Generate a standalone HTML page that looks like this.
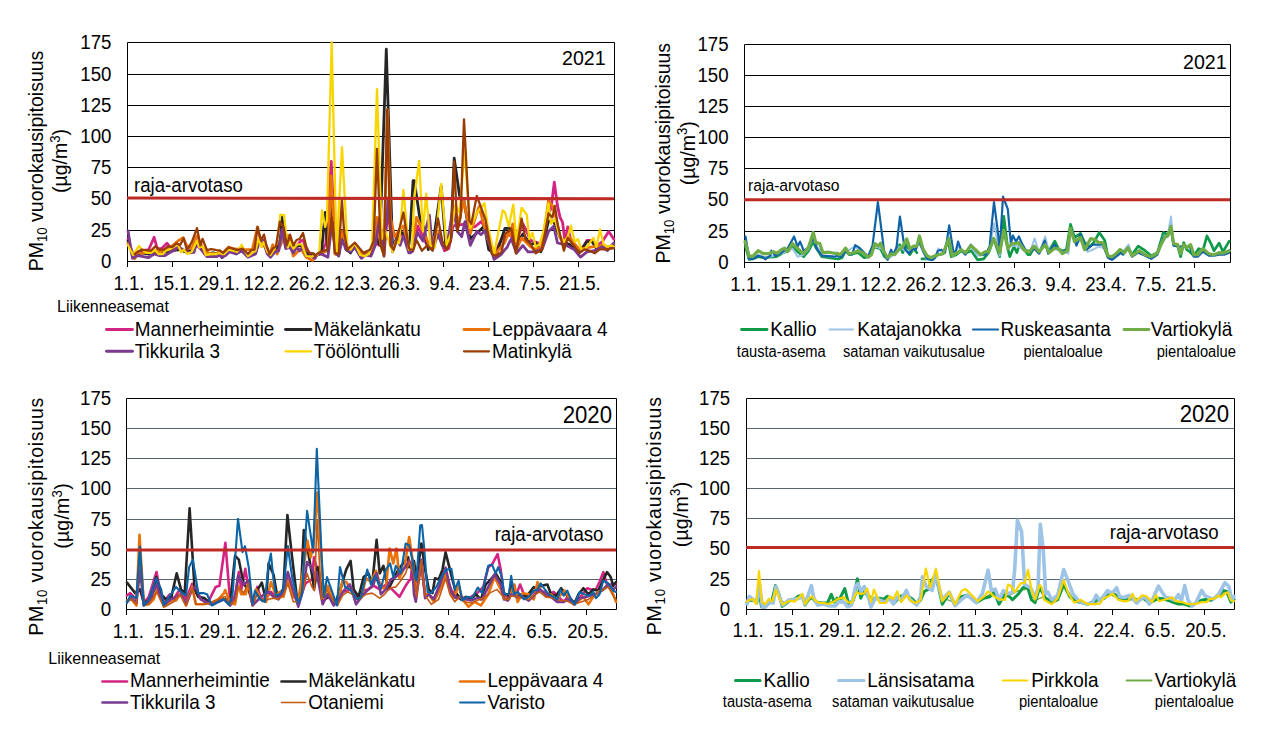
<!DOCTYPE html><html><head><meta charset="utf-8"><title>PM10</title><style>html,body{margin:0;padding:0;background:#fff;overflow:hidden}svg{display:block}text{font-family:"Liberation Sans",Arial,sans-serif}</style></head><body>
<svg width="1265" height="742" viewBox="0 0 1265 742">
<rect width="1265" height="742" fill="#fff"/>
<line x1="127" y1="74.5" x2="615" y2="74.5" stroke="#000" stroke-width="1"/>
<line x1="127" y1="105.5" x2="615" y2="105.5" stroke="#000" stroke-width="1"/>
<line x1="127" y1="136.5" x2="615" y2="136.5" stroke="#000" stroke-width="1"/>
<line x1="127" y1="167.5" x2="615" y2="167.5" stroke="#000" stroke-width="1"/>
<line x1="127" y1="230.5" x2="615" y2="230.5" stroke="#000" stroke-width="1"/>
<path d="M127.5 267V42.5H614.5V261.5H127" fill="none" stroke="#000" stroke-width="1"/>
<line x1="127.5" y1="261" x2="127.5" y2="267" stroke="#000" stroke-width="1"/>
<text transform="translate(129.0,290) scale(1,1.06)" font-size="18.67" text-anchor="middle">1.1.</text>
<line x1="172.5" y1="261" x2="172.5" y2="267" stroke="#000" stroke-width="1"/>
<text transform="translate(174.1,290) scale(1,1.06)" font-size="18.67" text-anchor="middle">15.1.</text>
<line x1="217.5" y1="261" x2="217.5" y2="267" stroke="#000" stroke-width="1"/>
<text transform="translate(219.2,290) scale(1,1.06)" font-size="18.67" text-anchor="middle">29.1.</text>
<line x1="262.5" y1="261" x2="262.5" y2="267" stroke="#000" stroke-width="1"/>
<text transform="translate(264.3,290) scale(1,1.06)" font-size="18.67" text-anchor="middle">12.2.</text>
<line x1="307.5" y1="261" x2="307.5" y2="267" stroke="#000" stroke-width="1"/>
<text transform="translate(309.4,290) scale(1,1.06)" font-size="18.67" text-anchor="middle">26.2.</text>
<line x1="352.5" y1="261" x2="352.5" y2="267" stroke="#000" stroke-width="1"/>
<text transform="translate(354.5,290) scale(1,1.06)" font-size="18.67" text-anchor="middle">12.3.</text>
<line x1="398.5" y1="261" x2="398.5" y2="267" stroke="#000" stroke-width="1"/>
<text transform="translate(399.6,290) scale(1,1.06)" font-size="18.67" text-anchor="middle">26.3.</text>
<line x1="443.5" y1="261" x2="443.5" y2="267" stroke="#000" stroke-width="1"/>
<text transform="translate(444.7,290) scale(1,1.06)" font-size="18.67" text-anchor="middle">9.4.</text>
<line x1="488.5" y1="261" x2="488.5" y2="267" stroke="#000" stroke-width="1"/>
<text transform="translate(489.8,290) scale(1,1.06)" font-size="18.67" text-anchor="middle">23.4.</text>
<line x1="533.5" y1="261" x2="533.5" y2="267" stroke="#000" stroke-width="1"/>
<text transform="translate(534.9,290) scale(1,1.06)" font-size="18.67" text-anchor="middle">7.5.</text>
<line x1="578.5" y1="261" x2="578.5" y2="267" stroke="#000" stroke-width="1"/>
<text transform="translate(580.0,290) scale(1,1.06)" font-size="18.67" text-anchor="middle">21.5.</text>
<text transform="translate(111.5,48.8) scale(1,1.06)" font-size="18.67" text-anchor="end">175</text>
<text transform="translate(111.5,80.8) scale(1,1.06)" font-size="18.67" text-anchor="end">150</text>
<text transform="translate(111.5,111.8) scale(1,1.06)" font-size="18.67" text-anchor="end">125</text>
<text transform="translate(111.5,142.8) scale(1,1.06)" font-size="18.67" text-anchor="end">100</text>
<text transform="translate(111.5,173.8) scale(1,1.06)" font-size="18.67" text-anchor="end">75</text>
<text transform="translate(111.5,204.8) scale(1,1.06)" font-size="18.67" text-anchor="end">50</text>
<text transform="translate(111.5,236.8) scale(1,1.06)" font-size="18.67" text-anchor="end">25</text>
<text transform="translate(111.5,267.8) scale(1,1.06)" font-size="18.67" text-anchor="end">0</text>
<g fill="none" stroke-linejoin="round" stroke-linecap="round">
<polyline points="128.0,238.9 132.5,255.0 137.9,251.8 143.3,250.7 148.7,249.7 154.1,237.3 157.3,248.6 161.6,248.6 167.0,243.2 170.3,247.5 175.6,248.6 181.0,249.7 185.3,251.8 191.8,250.7 196.7,245.3 200.4,248.6 204.7,254.0 211.2,254.0 216.6,254.5 220.0,254.0 222.0,255.0 228.6,249.7 236.2,251.8 241.6,250.7 248.0,255.0 255.6,252.9 258.8,243.2 263.1,241.0 267.4,252.9 271.7,254.0 276.0,250.7 280.3,245.3 283.6,236.7 289.0,241.0 293.3,249.7 300.8,241.0 303.0,240.0 307.3,251.8 312.7,254.0 315.0,257.2 317.0,255.0 321.5,252.9 325.8,243.2 331.2,161.3 335.5,252.9 338.7,255.0 341.9,231.3 346.2,249.7 350.6,251.8 354.9,245.3 361.3,256.1 365.6,254.0 371.0,254.0 375.3,243.2 379.7,245.3 384.0,245.3 388.3,211.9 392.6,249.7 396.9,238.9 403.4,232.4 408.8,250.7 410.0,251.8 412.0,250.7 417.5,225.9 422.9,236.7 427.2,245.3 432.6,248.6 438.0,231.3 444.5,250.7 448.8,248.6 453.1,225.9 459.6,224.9 466.0,223.8 474.7,227.0 481.1,221.6 485.4,228.1 494.1,254.0 502.7,236.7 505.0,237.9 510.1,233.6 515.2,244.3 522.9,223.8 525.5,228.9 530.6,240.4 542.1,244.3 547.3,216.1 551.1,208.4 554.3,182.2 557.5,205.9 560.1,217.4 562.6,222.5 565.2,243.0 567.7,227.0 571.6,243.0 576.7,249.4 581.8,250.7 586.9,240.4 592.1,240.4 597.2,245.5 602.3,241.7 608.7,231.5 613.8,239.1" stroke="#D42483" stroke-width="2.8"/>
<polyline points="128.0,241.0 133.6,256.1 141.2,252.9 148.7,254.0 154.1,251.8 159.5,254.0 165.9,251.8 172.4,250.7 180.0,249.7 185.3,251.8 191.8,250.7 196.7,242.1 200.4,247.5 205.8,254.0 213.4,252.9 220.0,255.0 222.0,257.7 228.6,250.7 237.2,251.8 242.6,249.7 248.0,256.1 255.6,252.9 258.8,241.0 265.3,243.2 269.6,255.0 276.0,250.7 280.3,238.9 282.0,217.3 284.7,232.4 289.0,245.3 295.4,246.4 301.9,245.3 306.2,254.0 313.8,254.0 315.0,256.1 317.0,255.0 321.5,251.8 325.2,212.5 327.9,251.8 331.2,201.2 335.5,254.0 338.7,255.0 341.9,230.3 346.2,249.7 350.6,252.9 354.9,245.3 361.3,256.1 365.6,255.0 371.0,254.0 375.3,234.6 379.7,245.3 386.3,49.2 392.6,249.7 396.9,236.7 401.2,232.4 404.4,234.6 408.8,245.3 410.0,234.6 413.1,180.7 414.3,180.7 419.7,217.3 424.0,228.1 428.3,249.7 433.7,238.9 441.2,186.1 445.6,243.2 450.9,238.9 454.2,158.1 459.6,195.8 463.9,200.1 470.3,238.9 480.0,230.3 484.4,225.9 488.7,249.7 496.2,255.0 504.9,228.5 510.0,228.1 511.4,230.2 516.5,244.3 522.9,234.0 530.6,244.3 535.7,243.0 540.9,251.9 548.5,221.2 553.7,221.2 557.5,231.5 562.6,241.7 569.0,244.3 572.9,248.1 579.3,251.9 586.9,241.7 592.1,241.7 597.2,249.4 602.3,245.5 607.4,246.8 613.8,246.8" stroke="#262626" stroke-width="2.8"/>
<polyline points="128.0,243.2 134.7,258.8 137.9,252.9 142.2,253.4 150.9,251.3 156.2,250.7 160.6,251.8 165.9,249.7 170.3,247.5 177.8,241.0 183.2,237.8 186.4,245.3 191.8,248.6 197.0,235.6 200.4,243.2 204.7,250.7 211.2,254.0 216.6,254.0 220.0,251.3 222.0,254.0 228.6,247.0 232.9,248.6 241.6,249.7 252.3,249.7 257.5,227.0 261.5,246.4 265.3,245.3 269.6,254.0 272.8,244.8 277.1,254.0 280.3,245.3 284.7,235.6 289.0,235.6 293.3,256.1 300.8,248.6 306.2,257.2 312.7,260.4 315.0,257.2 317.0,255.0 321.5,254.0 327.9,249.7 331.2,175.8 334.9,254.0 338.7,254.0 341.9,231.3 345.2,241.0 347.3,249.7 354.9,244.3 363.5,256.1 370.0,251.8 373.7,243.2 377.0,217.3 380.7,245.3 384.0,254.0 387.4,109.6 390.4,217.3 394.7,236.7 399.1,230.3 403.4,225.9 408.8,247.5 410.0,249.7 412.0,250.7 416.5,217.3 422.9,230.3 430.5,248.6 436.9,230.3 442.3,245.3 447.7,247.5 454.2,206.6 458.5,222.7 463.9,201.2 470.3,233.5 479.0,206.6 487.6,238.9 494.1,255.0 502.7,245.3 505.0,241.7 507.0,236.7 508.8,232.7 510.0,235.6 512.7,223.8 516.5,249.4 521.6,237.9 525.5,241.7 530.6,246.8 535.7,249.4 542.1,246.8 548.5,200.7 552.4,205.9 556.2,218.7 560.1,237.9 563.9,241.7 569.0,236.6 574.1,243.0 579.3,249.4 584.4,248.1 592.1,246.8 602.3,245.5 607.4,248.1 613.8,244.3" stroke="#E97209" stroke-width="2.8"/>
<polyline points="128.0,230.8 132.5,258.3 137.9,255.6 143.3,256.7 148.2,257.7 154.1,254.0 159.5,255.6 164.9,255.6 170.3,252.3 175.6,249.7 178.3,246.4 181.0,248.6 185.3,250.7 189.7,252.9 194.0,252.3 196.7,243.2 200.4,246.4 204.7,254.0 206.9,256.7 211.2,256.7 216.6,256.7 220.0,255.0 222.0,257.2 225.4,255.6 229.7,251.8 236.2,254.0 241.6,250.7 248.0,257.2 255.6,254.0 258.8,241.0 263.1,240.0 267.4,254.0 270.6,257.2 275.0,251.8 278.7,250.7 282.0,229.2 285.7,248.6 290.0,247.5 293.3,252.9 296.5,247.5 299.7,250.7 303.0,247.5 306.2,256.1 311.6,256.1 315.0,258.3 317.0,255.0 321.5,254.0 327.9,257.2 332.2,221.6 335.5,251.8 338.7,256.1 341.9,240.0 346.2,249.7 350.6,251.8 354.9,247.5 361.3,258.3 365.6,255.0 371.0,256.1 375.3,245.3 379.7,217.3 384.0,256.1 388.3,197.9 392.6,251.8 396.9,238.9 400.1,245.3 403.4,235.6 408.8,252.9 410.0,252.9 412.0,251.8 417.5,232.4 422.9,241.0 429.4,215.2 432.6,249.7 438.0,234.6 442.3,245.3 446.6,248.6 453.1,206.6 457.4,231.3 461.7,236.7 465.0,221.6 470.3,245.3 476.8,231.3 481.1,234.6 485.4,230.3 494.1,259.4 501.6,254.0 505.0,249.4 507.0,247.5 510.0,241.0 511.4,239.1 516.5,253.2 522.9,245.5 528.0,251.9 534.4,251.9 542.1,249.4 548.5,231.5 553.7,226.3 557.5,243.0 563.9,244.3 569.0,246.8 574.1,249.4 580.5,257.1 586.9,251.9 594.6,250.7 602.3,246.8 607.4,250.7 613.8,243.0" stroke="#7B3A8E" stroke-width="2.8"/>
<polyline points="128.0,245.3 133.1,255.0 139.0,245.9 142.2,249.7 146.6,252.9 150.9,252.9 155.2,250.2 158.4,254.0 162.7,254.0 165.9,250.7 170.3,249.1 174.6,246.4 177.8,244.3 181.0,252.3 183.7,249.7 187.5,254.0 191.8,251.8 196.7,241.0 199.4,247.5 202.6,246.4 205.8,255.0 211.2,254.0 216.6,254.0 220.0,252.9 222.0,254.0 224.3,254.0 228.6,249.7 232.9,250.7 237.2,251.8 241.6,244.8 244.8,250.7 248.0,256.1 252.3,252.9 255.6,250.7 258.3,238.9 261.5,247.0 263.6,242.1 267.4,251.8 270.6,255.0 273.9,249.7 277.1,243.2 280.3,214.6 284.1,215.2 285.7,230.3 287.9,247.5 290.0,242.1 293.3,248.6 297.6,244.3 301.9,244.3 306.2,256.1 311.6,256.7 315.0,255.0 317.0,255.0 319.3,251.8 322.0,210.3 325.2,227.0 326.9,220.6 331.7,42.2 336.6,252.9 342.0,147.1 347.3,245.3 350.6,249.7 354.9,243.2 360.3,255.0 364.6,256.1 368.9,254.0 372.1,244.3 377.0,89.1 381.8,238.9 385.0,230.3 392.6,251.8 395.8,241.0 399.1,243.2 403.4,189.8 408.8,249.7 410.0,248.6 412.0,249.7 414.3,197.9 419.1,160.8 422.9,231.3 426.2,193.6 430.5,245.3 434.8,247.5 441.2,183.9 446.6,245.3 450.9,233.5 455.3,204.4 459.6,213.0 464.4,150.5 470.3,228.1 476.8,213.0 484.4,203.3 487.6,224.9 494.1,254.0 502.7,210.3 505.0,212.3 508.8,226.3 510.0,220.6 513.3,204.6 516.5,241.7 521.6,207.8 526.8,214.8 529.3,239.1 532.5,232.7 535.7,246.8 539.6,244.3 543.4,231.5 548.5,203.3 551.1,223.8 554.9,218.7 558.8,234.0 563.9,241.7 567.7,236.6 570.9,225.7 574.8,241.7 578.0,239.1 581.8,250.7 586.9,246.8 593.3,237.9 596.5,246.8 600.0,229.5 603.6,244.3 607.4,246.8 611.3,245.5 613.8,246.8" stroke="#F9D500" stroke-width="2.3"/>
<polyline points="134.7,254.0 141.2,249.7 146.6,250.2 150.9,250.7 155.2,246.4 159.5,249.7 163.8,249.7 168.1,246.4 172.4,247.0 176.7,243.2 180.0,245.3 183.7,238.3 187.0,250.2 191.8,242.1 197.0,228.1 200.4,245.3 202.6,238.9 206.9,250.2 211.2,249.1 216.6,250.2 219.9,250.5 223.1,252.9 228.6,247.5 232.9,248.6 237.2,250.2 242.6,248.6 248.0,254.0 251.2,250.2 254.5,249.7 257.5,227.0 260.9,240.0 264.0,234.6 266.3,245.3 269.6,254.0 272.8,248.6 276.0,246.4 279.8,221.6 283.6,227.0 286.8,245.3 290.0,234.6 293.3,245.3 296.5,240.0 299.7,238.9 303.0,233.0 306.2,246.4 309.4,252.9 313.8,254.0 315.0,256.1 317.0,254.0 321.5,251.3 327.9,249.7 331.7,217.3 334.9,252.9 338.7,254.0 341.9,200.1 344.1,231.3 347.3,249.7 354.9,242.7 363.5,252.9 370.0,249.7 373.7,241.0 377.0,148.9 380.7,245.3 384.0,256.1 387.2,109.6 390.4,245.3 393.7,249.7 398.0,234.6 403.4,212.5 408.8,247.5 410.0,249.7 412.0,249.7 413.2,250.7 416.5,240.0 421.9,250.7 427.2,245.3 432.6,250.7 438.0,218.4 442.3,241.0 446.6,249.7 450.9,241.0 454.2,161.3 457.4,231.3 460.6,217.3 464.0,119.3 469.3,220.6 471.4,223.8 476.8,195.8 485.4,219.5 491.9,254.0 496.2,256.1 501.6,251.8 505.0,234.0 507.0,232.4 510.0,230.3 511.4,228.9 515.9,253.2 521.6,218.7 525.5,239.1 530.6,244.3 535.7,253.2 542.1,249.4 548.5,213.5 552.4,217.4 554.9,205.9 557.5,223.8 563.9,250.7 567.7,237.9 572.9,244.3 579.3,253.2 584.4,249.4 589.5,250.7 594.6,253.2 599.8,249.4 607.4,249.4 613.8,248.1" stroke="#983C02" stroke-width="2.3"/>
</g>
<line x1="127" y1="198.0" x2="614" y2="198.8" stroke="#BE2B24" stroke-width="3.1"/>
<text transform="translate(134,191.6) scale(1,1.06)" font-size="18.67">raja-arvotaso</text>
<text transform="translate(605.6,65) scale(1,1.06)" font-size="19.6" text-anchor="end">2021</text>
<text transform="translate(43.0,161.00) rotate(-90) scale(1,1.05)" font-size="19.5" letter-spacing="0" text-anchor="middle">PM<tspan font-size="13.3" dy="3.8">10</tspan><tspan dy="-3.8"> vuorokausipitoisuus</tspan></text>
<text transform="translate(67,161.00) rotate(-90) scale(1,1.05)" font-size="19.5" letter-spacing="0" text-anchor="middle">(µg/m<tspan font-size="13.3" dy="-7">3</tspan><tspan dy="7">)</tspan></text>
<line x1="744" y1="75.5" x2="1231" y2="75.5" stroke="#000" stroke-width="1"/>
<line x1="744" y1="106.5" x2="1231" y2="106.5" stroke="#000" stroke-width="1"/>
<line x1="744" y1="137.5" x2="1231" y2="137.5" stroke="#000" stroke-width="1"/>
<line x1="744" y1="168.5" x2="1231" y2="168.5" stroke="#000" stroke-width="1"/>
<line x1="744" y1="231.5" x2="1231" y2="231.5" stroke="#000" stroke-width="1"/>
<path d="M744.5 268V44.5H1230.5V262.5H744" fill="none" stroke="#000" stroke-width="1"/>
<line x1="744.5" y1="262" x2="744.5" y2="268" stroke="#000" stroke-width="1"/>
<text transform="translate(745.9,291) scale(1,1.06)" font-size="18.67" text-anchor="middle">1.1.</text>
<line x1="789.5" y1="262" x2="789.5" y2="268" stroke="#000" stroke-width="1"/>
<text transform="translate(790.9,291) scale(1,1.06)" font-size="18.67" text-anchor="middle">15.1.</text>
<line x1="834.5" y1="262" x2="834.5" y2="268" stroke="#000" stroke-width="1"/>
<text transform="translate(835.9,291) scale(1,1.06)" font-size="18.67" text-anchor="middle">29.1.</text>
<line x1="879.5" y1="262" x2="879.5" y2="268" stroke="#000" stroke-width="1"/>
<text transform="translate(880.9,291) scale(1,1.06)" font-size="18.67" text-anchor="middle">12.2.</text>
<line x1="924.5" y1="262" x2="924.5" y2="268" stroke="#000" stroke-width="1"/>
<text transform="translate(925.9,291) scale(1,1.06)" font-size="18.67" text-anchor="middle">26.2.</text>
<line x1="969.5" y1="262" x2="969.5" y2="268" stroke="#000" stroke-width="1"/>
<text transform="translate(970.9,291) scale(1,1.06)" font-size="18.67" text-anchor="middle">12.3.</text>
<line x1="1014.5" y1="262" x2="1014.5" y2="268" stroke="#000" stroke-width="1"/>
<text transform="translate(1015.9,291) scale(1,1.06)" font-size="18.67" text-anchor="middle">26.3.</text>
<line x1="1059.5" y1="262" x2="1059.5" y2="268" stroke="#000" stroke-width="1"/>
<text transform="translate(1060.9,291) scale(1,1.06)" font-size="18.67" text-anchor="middle">9.4.</text>
<line x1="1104.5" y1="262" x2="1104.5" y2="268" stroke="#000" stroke-width="1"/>
<text transform="translate(1105.9,291) scale(1,1.06)" font-size="18.67" text-anchor="middle">23.4.</text>
<line x1="1149.5" y1="262" x2="1149.5" y2="268" stroke="#000" stroke-width="1"/>
<text transform="translate(1150.9,291) scale(1,1.06)" font-size="18.67" text-anchor="middle">7.5.</text>
<line x1="1194.5" y1="262" x2="1194.5" y2="268" stroke="#000" stroke-width="1"/>
<text transform="translate(1195.9,291) scale(1,1.06)" font-size="18.67" text-anchor="middle">21.5.</text>
<text transform="translate(728.6,50.5) scale(1,1.06)" font-size="18.67" text-anchor="end">175</text>
<text transform="translate(728.6,81.5) scale(1,1.06)" font-size="18.67" text-anchor="end">150</text>
<text transform="translate(728.6,112.5) scale(1,1.06)" font-size="18.67" text-anchor="end">125</text>
<text transform="translate(728.6,143.5) scale(1,1.06)" font-size="18.67" text-anchor="end">100</text>
<text transform="translate(728.6,174.5) scale(1,1.06)" font-size="18.67" text-anchor="end">75</text>
<text transform="translate(728.6,205.5) scale(1,1.06)" font-size="18.67" text-anchor="end">50</text>
<text transform="translate(728.6,237.5) scale(1,1.06)" font-size="18.67" text-anchor="end">25</text>
<text transform="translate(728.6,268.5) scale(1,1.06)" font-size="18.67" text-anchor="end">0</text>
<g fill="none" stroke-linejoin="round" stroke-linecap="round">
<polyline points="745.5,246.6 749.1,259.3 753.1,258.8 758.2,256.7 763.2,257.7 769.3,257.2 776.4,256.7 783.4,252.7 788.5,250.7 792.5,246.6 797.6,251.7 803.7,256.7 808.7,250.7 813.3,241.6 815.8,247.6 821.9,256.7 828.9,257.7 834.0,258.3 838.0,258.8 839.1,258.8 842.0,257.7 845.6,250.7 849.1,254.7 853.2,253.7 858.2,252.7 864.3,257.7 868.3,256.7 872.4,246.6 876.4,247.6 880.5,248.6 884.5,256.7 887.5,258.8 891.6,253.7 895.6,252.7 899.7,244.6 902.7,252.7 906.8,244.6 909.8,254.7 913.8,248.6 916.9,252.7" stroke="#0E9A48" stroke-width="2.7"/>
<polyline points="921.9,258.8 927.0,258.8 931.0,259.8 933.0,257.7 935.1,256.7 938.1,254.7 943.1,253.7 948.2,240.6 951.2,256.7 956.3,254.7 961.3,250.7 966.4,252.7 971.4,250.7 977.5,259.8 983.6,258.8 988.6,252.7 993.7,238.5 999.7,256.7 1003.8,216.3 1007.8,248.6 1009.8,256.7 1013.9,246.6 1016.9,252.7 1020.0,242.6 1025.0,250.7 1028.0,254.7 1030.1,254.7 1034.1,247.6 1039.1,252.7 1045.2,243.6 1049.2,250.7 1054.8,241.1 1058.3,248.6 1062.4,250.7 1066.4,249.7 1070.5,224.4 1074.5,237.5 1080.6,233.5 1084.6,242.6 1089.7,246.6 1093.7,242.6 1099.3,232.5 1104.8,240.6 1107.9,256.7 1111.9,258.8 1116.0,254.7 1120.0,249.7 1123.0,252.7 1124.1,252.7 1128.1,247.6 1132.1,254.7 1138.2,246.1 1145.2,250.7 1151.3,255.7 1157.4,252.7 1163.4,232.5 1167.5,234.5 1171.0,228.4 1173.6,244.6 1177.6,245.6 1180.6,256.7 1183.7,242.6 1186.7,249.7 1189.7,251.7 1193.8,255.7 1198.8,248.6 1202.9,250.7 1206.9,236.0 1211.0,243.6 1214.0,250.7 1219.1,243.1 1223.1,251.7 1229.2,241.1" stroke="#0E9A48" stroke-width="2.7"/>
<polyline points="745.5,240.6 750.1,257.7 758.2,254.7 765.2,257.7 773.3,255.7 783.4,252.7 792.5,248.6 797.6,256.7 803.7,254.7 808.7,248.6 813.3,238.5 817.8,247.6 822.9,255.7 834.0,256.7 838.0,256.7 839.1,255.7 845.6,251.7 855.2,246.6 863.3,253.7 868.3,256.7 875.4,246.6 881.5,248.6 887.5,259.8 894.6,253.7 899.7,246.6 904.7,250.7 912.8,249.7 918.9,242.6 927.0,259.8 933.0,258.8 935.1,257.7 938.1,248.6 943.1,252.7 948.7,237.5 953.2,255.7 958.3,246.6 965.4,252.7 970.9,246.6 977.5,255.7 985.6,254.7 989.6,248.6 994.2,223.4 999.7,255.7 1003.8,230.4 1007.8,246.6 1012.9,245.6 1018.9,246.6 1024.0,250.7 1028.0,250.7 1030.1,251.7 1034.6,238.5 1039.1,252.7 1045.2,236.5 1049.2,252.7 1054.3,248.6 1062.4,250.7 1068.4,253.7 1071.0,230.4 1075.5,242.6 1081.6,240.6 1087.7,251.7 1092.7,249.7 1098.8,246.6 1104.8,248.6 1108.9,257.7 1113.9,258.8 1123.0,251.7 1128.6,244.6 1132.1,255.7 1139.2,250.7 1145.2,255.7 1151.3,257.7 1157.4,254.7 1163.4,236.5 1167.5,236.5 1171.0,216.5 1173.6,244.6 1179.6,246.6 1183.7,246.6 1189.7,246.6 1193.8,255.7 1202.9,250.7 1208.9,255.7 1219.1,253.7 1229.2,251.7" stroke="#9DC3E6" stroke-width="2.0"/>
<polyline points="745.5,236.5 749.1,258.8 753.1,258.8 758.2,255.7 763.2,257.2 765.2,259.3 770.3,255.7 771.3,250.7 775.4,255.7 781.4,252.7 787.5,248.6 794.1,236.5 797.6,246.6 800.1,241.6 803.7,250.7 808.7,247.6 813.3,237.5 816.8,248.6 821.9,255.7 828.9,256.2 834.0,256.7 838.0,255.7 839.1,256.7 842.0,256.7 845.6,250.7 849.1,253.7 852.2,254.7 855.2,245.1 859.2,247.6 863.3,251.7 868.3,256.7 872.4,246.6 877.9,202.1 881.5,230.4 884.5,254.7 887.5,259.8 891.1,249.7 893.6,254.7 896.6,246.6 899.9,216.5 902.7,235.5 904.7,248.6 908.8,253.7 912.8,248.6 915.9,249.7 918.9,240.6 922.9,250.7 927.0,258.8 931.0,259.8 933.0,259.8 935.1,257.7 938.1,250.7 941.1,249.7 945.1,252.7 949.2,225.4 953.2,250.7 955.2,253.7 958.1,241.6 961.3,250.7 965.4,254.7 970.9,244.6 975.5,250.7 980.5,254.7 985.6,254.7 989.6,246.6 994.0,202.1 997.7,230.4 999.7,250.7 1003.0,196.6 1007.8,209.2 1010.9,243.6 1012.9,235.5 1015.9,241.6 1018.9,236.5 1022.0,243.6 1026.0,250.7 1028.0,250.7 1030.1,251.7 1034.1,248.6 1039.1,253.7 1044.7,240.6 1048.2,253.7 1054.3,244.6 1058.3,249.7 1062.4,251.7 1067.4,249.7 1071.0,228.4 1076.5,245.6 1080.6,234.5 1086.6,249.7 1092.7,244.6 1098.8,244.6 1102.8,244.6 1107.9,257.7 1111.9,259.8 1117.0,255.7 1121.0,252.7 1123.0,254.7 1128.1,248.6 1132.1,256.7 1138.2,252.7 1145.2,255.7 1151.3,258.8 1157.4,254.7 1163.4,237.5 1167.5,236.5 1171.0,228.4 1173.6,245.6 1179.6,246.6 1183.7,246.6 1189.7,246.6 1193.8,256.7 1197.8,256.7 1202.9,251.7 1208.9,255.7 1214.0,255.7 1219.1,254.7 1224.1,254.7 1229.2,252.7" stroke="#1163A7" stroke-width="2.2"/>
<polyline points="745.0,241.6 749.1,256.2 753.1,256.2 758.2,250.7 763.2,253.7 768.3,253.7 773.3,251.7 777.4,253.2 781.4,249.7 784.5,248.1 787.5,251.7 792.5,243.6 797.6,248.6 803.7,253.7 808.7,246.6 813.3,232.5 815.8,242.6 819.8,243.6 822.9,252.7 828.9,252.2 834.0,253.2 838.0,253.7 839.1,254.7 842.0,252.7 845.6,248.1 849.1,253.7 853.2,252.7 858.2,250.7 863.3,253.2 868.3,257.2 871.4,254.7 874.9,243.6 878.4,246.1 880.5,243.1 883.5,250.7 887.5,257.7 891.6,253.7 894.6,254.7 898.7,249.7 902.7,246.6 906.8,239.0 909.8,248.6 913.8,246.1 916.9,246.1 919.4,236.0 922.9,248.6 927.0,255.7 931.0,257.7 933.0,256.7 935.1,255.7 938.1,254.7 943.1,253.7 948.7,238.5 952.2,255.7 957.3,252.7 961.3,249.7 965.4,252.7 970.9,245.6 975.5,249.7 980.5,254.7 985.6,251.7 988.6,251.7 993.7,238.5 999.7,252.7 1003.8,230.4 1007.8,248.6 1011.9,243.6 1015.9,243.6 1018.9,242.6 1024.0,249.7 1028.0,251.7 1029.1,251.7 1034.1,246.1 1039.1,251.7 1045.2,244.6 1049.2,252.7 1054.3,248.6 1058.3,248.6 1062.4,253.7 1067.4,250.7 1070.5,228.4 1074.5,241.6 1080.6,237.5 1084.6,249.7 1090.7,238.5 1094.7,239.5 1098.8,242.6 1102.8,242.6 1107.9,255.7 1111.9,256.7 1116.0,253.7 1120.0,249.7 1123.0,251.7 1124.1,252.7 1128.1,247.6 1132.1,255.7 1139.2,250.7 1145.2,254.7 1151.3,256.7 1157.4,253.2 1161.4,243.6 1165.5,236.5 1168.0,235.5 1171.0,226.4 1173.6,243.6 1177.6,244.6 1180.6,253.7 1183.7,244.6 1186.7,247.6 1190.7,244.6 1193.8,254.7 1197.8,254.7 1202.9,248.6 1208.9,253.7 1214.0,254.7 1219.1,252.7 1223.0,253.2 1229.2,250.7" stroke="#70AD47" stroke-width="3.2"/>
</g>
<line x1="744" y1="199.8" x2="1230" y2="199.8" stroke="#BE2B24" stroke-width="3.1"/>
<text transform="translate(748,190.5) scale(1,1.06)" font-size="15.7">raja-arvotaso</text>
<text transform="translate(1226.6,69) scale(1,1.06)" font-size="19.6" text-anchor="end">2021</text>
<text transform="translate(670.0,153.20) rotate(-90) scale(1,1.05)" font-size="19.5" letter-spacing="0" text-anchor="middle">PM<tspan font-size="13.3" dy="3.8">10</tspan><tspan dy="-3.8"> vuorokausipitoisuus</tspan></text>
<text transform="translate(694.7,153.20) rotate(-90) scale(1,1.05)" font-size="19.5" letter-spacing="0" text-anchor="middle">(µg/m<tspan font-size="13.3" dy="-7">3</tspan><tspan dy="7">)</tspan></text>
<line x1="126" y1="428.5" x2="617" y2="428.5" stroke="#59656D" stroke-width="1"/>
<line x1="126" y1="458.5" x2="617" y2="458.5" stroke="#59656D" stroke-width="1"/>
<line x1="126" y1="488.5" x2="617" y2="488.5" stroke="#59656D" stroke-width="1"/>
<line x1="126" y1="519.5" x2="617" y2="519.5" stroke="#59656D" stroke-width="1"/>
<line x1="126" y1="579.5" x2="617" y2="579.5" stroke="#59656D" stroke-width="1"/>
<path d="M126.5 615V398.5H616.5V609.5H126" fill="none" stroke="#000" stroke-width="1"/>
<line x1="126.5" y1="609" x2="126.5" y2="615" stroke="#000" stroke-width="1"/>
<text transform="translate(128.3,638) scale(1,1.06)" font-size="18.67" text-anchor="middle">1.1.</text>
<line x1="172.5" y1="609" x2="172.5" y2="615" stroke="#000" stroke-width="1"/>
<text transform="translate(174.3,638) scale(1,1.06)" font-size="18.67" text-anchor="middle">15.1.</text>
<line x1="218.5" y1="609" x2="218.5" y2="615" stroke="#000" stroke-width="1"/>
<text transform="translate(220.2,638) scale(1,1.06)" font-size="18.67" text-anchor="middle">29.1.</text>
<line x1="264.5" y1="609" x2="264.5" y2="615" stroke="#000" stroke-width="1"/>
<text transform="translate(266.2,638) scale(1,1.06)" font-size="18.67" text-anchor="middle">12.2.</text>
<line x1="310.5" y1="609" x2="310.5" y2="615" stroke="#000" stroke-width="1"/>
<text transform="translate(312.1,638) scale(1,1.06)" font-size="18.67" text-anchor="middle">26.2.</text>
<line x1="356.5" y1="609" x2="356.5" y2="615" stroke="#000" stroke-width="1"/>
<text transform="translate(358.1,638) scale(1,1.06)" font-size="18.67" text-anchor="middle">11.3.</text>
<line x1="402.5" y1="609" x2="402.5" y2="615" stroke="#000" stroke-width="1"/>
<text transform="translate(404.1,638) scale(1,1.06)" font-size="18.67" text-anchor="middle">25.3.</text>
<line x1="448.5" y1="609" x2="448.5" y2="615" stroke="#000" stroke-width="1"/>
<text transform="translate(450.0,638) scale(1,1.06)" font-size="18.67" text-anchor="middle">8.4.</text>
<line x1="494.5" y1="609" x2="494.5" y2="615" stroke="#000" stroke-width="1"/>
<text transform="translate(496.0,638) scale(1,1.06)" font-size="18.67" text-anchor="middle">22.4.</text>
<line x1="540.5" y1="609" x2="540.5" y2="615" stroke="#000" stroke-width="1"/>
<text transform="translate(541.9,638) scale(1,1.06)" font-size="18.67" text-anchor="middle">6.5.</text>
<line x1="586.5" y1="609" x2="586.5" y2="615" stroke="#000" stroke-width="1"/>
<text transform="translate(587.9,638) scale(1,1.06)" font-size="18.67" text-anchor="middle">20.5.</text>
<text transform="translate(111.2,404.5) scale(1,1.06)" font-size="18.67" text-anchor="end">175</text>
<text transform="translate(111.2,434.5) scale(1,1.06)" font-size="18.67" text-anchor="end">150</text>
<text transform="translate(111.2,464.5) scale(1,1.06)" font-size="18.67" text-anchor="end">125</text>
<text transform="translate(111.2,494.5) scale(1,1.06)" font-size="18.67" text-anchor="end">100</text>
<text transform="translate(111.2,525.5) scale(1,1.06)" font-size="18.67" text-anchor="end">75</text>
<text transform="translate(111.2,555.5) scale(1,1.06)" font-size="18.67" text-anchor="end">50</text>
<text transform="translate(111.2,585.5) scale(1,1.06)" font-size="18.67" text-anchor="end">25</text>
<text transform="translate(111.2,615.5) scale(1,1.06)" font-size="18.67" text-anchor="end">0</text>
<g fill="none" stroke-linejoin="round" stroke-linecap="round">
<polyline points="127.0,595.6 130.2,593.1 136.4,599.3 140.1,557.2 143.8,603.0 148.8,596.8 156.5,572.0 161.2,596.8 164.9,600.5 169.8,594.3 173.6,599.3 179.8,589.4 186.0,599.3 192.2,583.8 198.3,596.8 204.5,601.8 209.5,599.3 215.7,586.9 219.4,585.7 225.4,542.8 230.2,601.8 235.1,595.6 238.8,572.0 241.3,589.4 245.3,568.9 248.7,589.4 252.5,604.3 257.4,586.9 261.1,599.3 266.1,598.1 271.0,591.9 276.0,596.8 281.0,594.3 287.2,578.2 293.3,593.1 298.3,600.5 305.7,583.2 311.9,579.5 314.0,557.2 319.0,577.0 323.9,599.3 330.1,596.8 336.3,601.8 342.5,591.9 351.2,589.4 357.4,596.8 363.6,590.6 368.5,589.4 373.5,585.7 379.7,589.4 385.9,584.4 390.8,588.2 394.5,591.9 399.5,596.8 405.7,585.7 409.0,580.7 410.7,579.5 412.7,560.9 414.0,582.0 416.4,586.9 421.4,563.4 425.1,594.3 428.8,594.3 433.8,599.3 440.0,584.4 445.6,574.5 451.1,589.4 456.1,596.8 461.0,599.3 466.0,599.3 471.0,596.8 477.2,593.1 483.3,586.9 488.3,567.1 492.0,564.6 497.6,554.1 500.7,569.6 504.0,596.9 505.7,596.8 507.7,596.9 509.0,596.8 511.4,589.5 516.4,594.4 520.1,584.5 523.9,594.4 528.8,595.7 533.8,592.0 538.7,589.5 543.7,592.0 548.7,594.4 553.6,592.0 558.6,596.9 563.6,601.9 568.5,595.7 573.5,603.1 578.4,599.4 583.4,593.2 587.1,588.2 590.8,589.5 595.8,589.5 599.5,582.0 603.3,572.1 607.0,584.5 611.9,584.5 615.8,583.9" stroke="#D42483" stroke-width="2.6"/>
<polyline points="127.0,582.6 135.2,593.1 140.1,589.4 143.8,603.0 151.3,599.3 156.2,577.0 161.2,594.3 166.1,599.3 171.1,598.1 176.7,573.3 181.0,589.4 184.7,593.1 189.6,508.2 194.6,589.4 198.3,596.8 204.5,598.1 210.7,604.3 216.9,601.8 224.0,599.3 226.4,599.3 230.2,603.0 235.1,555.9 238.8,559.7 243.8,584.4 248.7,589.4 252.5,601.8 256.2,591.9 261.8,582.6 266.1,600.5 268.6,563.4 273.5,574.5 277.2,595.6 283.4,589.4 287.4,515.0 292.1,557.2 297.1,599.3 300.8,594.3 303.8,530.0 308.2,552.2 313.2,582.0 314.0,589.4 317.7,567.1 319.0,572.0 321.4,589.4 323.9,599.3 328.9,596.8 335.1,603.0 340.0,590.6 346.2,569.6 350.6,560.9 353.7,589.4 358.6,596.8 363.6,577.0 368.5,573.3 372.2,584.4 376.6,539.8 379.7,573.3 383.4,565.8 388.3,589.4 393.3,579.5 398.3,569.6 403.2,563.4 408.2,557.2 409.0,567.1 412.7,564.6 414.0,560.9 416.4,578.2 421.4,543.5 425.1,569.6 428.8,589.4 432.5,593.1 435.0,578.2 438.7,579.5 442.5,569.6 445.6,552.2 448.7,564.6 452.4,579.5 456.1,593.1 461.0,599.3 466.0,596.8 471.0,599.3 475.9,594.3 480.9,599.3 485.8,584.4 490.8,579.5 495.7,573.3 500.7,582.0 504.0,594.4 505.7,594.3 507.7,594.4 509.0,596.8 511.4,582.0 516.4,596.9 521.4,594.4 526.3,596.9 533.8,587.0 537.5,589.5 541.2,585.8 547.4,584.5 551.1,594.4 556.1,595.7 561.1,588.2 566.0,594.4 571.0,599.4 574.7,603.1 578.4,594.4 583.4,588.2 588.4,594.4 593.3,589.5 598.3,590.7 603.3,579.6 607.0,572.1 610.7,577.1 613.2,585.8 616.0,582.0" stroke="#262626" stroke-width="2.6"/>
<polyline points="127.0,600.5 131.4,599.3 136.4,605.5 139.5,534.9 143.8,604.3 148.8,604.3 153.7,599.3 156.8,589.4 161.2,599.3 163.7,606.7 168.6,601.8 176.0,600.5 181.0,593.1 186.0,605.5 192.2,586.9 195.9,604.3 203.3,604.3 210.7,603.0 218.2,599.3 224.0,593.1 225.2,590.0 230.2,603.0 235.1,604.3 238.2,585.7 241.3,594.3 245.6,594.3 248.7,584.4 252.5,604.3 256.2,589.4 261.1,599.3 266.1,601.8 271.0,582.0 276.0,595.6 279.7,591.9 283.4,596.8 287.8,580.7 293.3,596.8 298.3,599.3 303.3,569.6 307.5,540.9 310.7,557.2 313.2,547.3 317.4,492.6 323.9,600.5 327.6,585.7 332.6,599.3 337.5,604.3 342.5,580.7 346.2,582.0 351.2,589.4 356.1,599.3 361.1,598.1 366.0,578.2 371.0,582.0 376.0,570.8 380.9,586.9 385.9,589.4 389.6,548.5 393.3,563.4 396.4,548.5 399.5,578.2 404.5,567.1 409.2,537.0 412.7,560.9 414.0,572.0 416.4,590.6 421.4,567.1 425.1,594.3 428.8,594.3 433.8,601.8 440.0,589.4 445.6,574.5 449.9,589.4 453.6,598.1 458.6,585.7 462.3,599.3 468.5,606.7 474.7,601.8 480.9,605.5 488.3,594.3 494.5,577.0 500.7,589.4 504.0,596.9 505.7,598.1 507.7,599.4 509.0,599.3 511.4,592.0 514.5,584.5 517.6,601.9 522.6,593.2 528.8,594.4 533.8,599.4 537.5,582.0 541.2,592.0 546.2,596.9 551.1,594.4 556.1,599.4 561.1,594.4 564.8,590.7 568.5,596.9 573.5,604.4 578.4,600.6 583.4,596.9 588.4,604.4 593.3,596.9 598.3,592.0 603.3,589.5 608.2,584.5 613.2,594.4 616.0,601.9" stroke="#E97209" stroke-width="2.6"/>
<polyline points="127.0,601.8 131.4,598.1 136.4,603.0 140.1,569.6 143.8,605.5 148.8,601.8 156.8,584.4 161.2,599.3 164.9,604.3 171.1,599.3 176.0,596.8 181.0,594.3 186.0,604.3 192.2,589.4 195.9,586.9 200.8,599.3 208.3,603.0 213.2,604.3 224.0,599.3 225.2,600.5 230.2,605.5 235.1,598.1 238.2,575.8 243.8,584.4 248.7,580.7 252.5,605.5 257.4,600.5 262.4,595.6 268.6,591.9 273.5,596.8 278.5,599.3 283.4,590.6 287.8,572.0 293.3,590.6 298.3,606.7 303.3,589.4 307.0,562.1 311.9,568.3 315.7,578.2 316.5,572.0 322.7,604.3 327.6,594.3 333.8,605.5 338.8,599.3 343.7,590.6 349.9,584.4 356.1,604.3 363.6,594.3 368.5,589.4 373.5,584.4 376.6,573.3 380.9,594.3 385.9,589.4 390.8,579.5 395.8,577.0 400.7,572.0 405.7,567.1 409.2,560.3 412.7,572.0 414.0,594.3 415.8,601.8 421.4,559.7 425.1,598.1 428.8,594.3 433.8,599.3 440.0,584.4 445.6,567.7 451.1,591.9 456.1,598.1 461.0,596.8 466.0,599.3 471.0,600.5 477.2,598.1 482.1,599.3 488.3,586.9 494.5,574.5 500.7,584.4 504.0,599.4 505.7,599.3 507.7,600.6 509.0,598.1 511.4,594.4 516.4,596.9 522.6,596.9 528.8,600.6 535.0,594.4 540.0,589.5 546.2,595.7 551.1,596.9 557.3,601.9 563.6,601.9 568.5,599.4 574.7,604.4 579.7,598.2 585.9,596.9 593.3,594.4 598.3,593.2 603.3,589.5 608.2,584.5 613.2,589.5 616.0,587.0" stroke="#7B3A8E" stroke-width="2.6"/>
<polyline points="127.0,600.5 131.4,599.3 136.4,604.3 139.9,552.2 143.8,605.5 148.8,604.3 156.8,591.9 161.2,601.8 164.9,606.7 173.6,601.8 179.8,594.3 186.0,605.5 192.2,588.2 195.9,604.3 204.5,604.3 210.7,603.0 218.2,599.3 224.0,596.8 225.2,596.8 230.2,604.3 235.1,600.5 238.2,586.9 243.8,593.1 248.1,583.2 252.5,605.5 257.4,594.3 262.4,601.8 268.6,599.3 273.5,598.1 278.5,599.3 283.4,595.6 287.8,583.2 293.3,601.8 298.3,601.8 303.3,589.4 307.0,573.3 311.9,586.9 314.4,590.6 317.1,520.0 321.4,599.3 326.4,589.4 332.6,599.3 337.5,605.5 342.5,595.6 347.5,591.9 352.4,594.3 358.6,599.3 366.0,594.3 372.2,593.1 379.7,598.1 384.6,594.3 389.6,588.2 395.8,586.9 400.7,580.7 405.7,573.3 409.2,562.1 412.7,572.0 414.0,574.5 416.4,596.8 421.4,560.9 425.1,595.6 431.3,604.3 438.7,599.3 445.6,578.2 449.9,594.3 454.8,601.8 459.8,596.8 464.8,601.8 471.0,603.0 477.2,600.5 483.3,598.1 489.5,593.1 497.0,589.4 503.2,596.8 504.0,599.4 509.0,599.3 511.4,595.7 517.6,596.9 523.9,598.2 528.8,599.4 535.0,594.4 540.0,592.0 546.2,596.9 553.6,598.2 559.8,600.6 566.0,600.6 573.5,604.4 580.9,601.9 588.4,599.4 595.8,594.4 603.3,589.5 608.2,587.0 613.2,595.7 616.0,599.4" stroke="#C55A11" stroke-width="1.6"/>
<polyline points="127.0,603.0 130.2,595.6 136.4,598.1 139.9,546.6 143.8,605.5 148.8,599.3 156.2,578.2 161.2,589.4 163.7,605.5 167.4,599.3 176.0,586.9 181.0,591.9 186.0,595.6 189.1,567.1 192.8,559.7 198.3,593.1 203.3,593.1 207.0,594.3 212.0,605.5 218.2,601.8 224.0,599.3 228.9,604.9 232.6,594.3 238.0,518.7 242.5,552.2 245.0,546.2 248.7,567.1 252.5,604.3 254.9,590.6 259.9,599.3 264.8,601.8 268.6,564.6 270.9,553.5 273.5,579.5 276.0,595.6 279.7,594.3 283.4,589.4 287.8,546.0 292.1,577.0 298.3,603.0 302.0,594.3 305.7,532.4 307.1,510.8 313.2,552.2 316.8,448.9 321.4,551.0 323.9,596.8 327.0,577.0 331.3,589.4 336.9,605.5 340.0,567.1 345.0,586.9 349.9,589.4 357.4,599.3 361.1,596.8 367.3,569.6 371.0,584.4 374.7,575.8 380.9,588.2 385.9,569.6 390.2,563.4 393.3,577.0 395.8,565.8 400.7,573.3 405.7,543.5 409.2,545.4 412.7,560.9 414.0,572.0 416.4,580.7 420.2,525.6 422.0,525.0 423.9,544.8 427.6,591.9 431.3,593.1 436.3,586.9 441.2,577.0 446.2,569.6 451.4,568.9 454.8,589.4 458.6,580.7 462.3,600.5 467.2,596.8 472.2,598.1 477.8,587.5 482.1,593.1 488.3,565.8 492.0,564.6 495.7,573.3 498.2,567.1 501.9,577.0 504.0,592.0 505.7,594.3 507.7,594.4 509.0,593.1 511.2,575.8 513.9,594.4 517.6,592.0 520.1,594.4 523.9,599.4 528.8,596.9 533.8,590.7 537.5,589.5 540.6,583.3 544.9,589.5 548.7,594.4 553.6,596.9 557.3,599.4 560.5,589.5 563.6,595.7 567.3,590.7 571.0,599.4 574.7,604.4 579.7,592.0 584.6,594.4 589.6,595.7 593.3,592.0 595.8,598.2 599.5,594.4 603.3,580.8 608.2,583.3 613.2,590.7 616.0,592.0" stroke="#0B64A6" stroke-width="2.1"/>
</g>
<line x1="126" y1="550" x2="616" y2="550" stroke="#BE2B24" stroke-width="3.1"/>
<text transform="translate(603.5,541.2) scale(1,1.06)" font-size="18.67" text-anchor="end">raja-arvotaso</text>
<text transform="translate(612,423) scale(1,1.06)" font-size="22.2" text-anchor="end">2020</text>
<text transform="translate(43.0,516.38) rotate(-90) scale(1,1.05)" font-size="19.5" letter-spacing="0.76" text-anchor="middle">PM<tspan font-size="13.3" dy="3.8">10</tspan><tspan dy="-3.8"> vuorokausipitoisuus</tspan></text>
<text transform="translate(69.2,515.92) rotate(-90) scale(1,1.05)" font-size="19.5" letter-spacing="0.25" text-anchor="middle">(µg/m<tspan font-size="13.3" dy="-7">3</tspan><tspan dy="7">)</tspan></text>
<line x1="746" y1="428.5" x2="1235" y2="428.5" stroke="#59656D" stroke-width="1"/>
<line x1="746" y1="458.5" x2="1235" y2="458.5" stroke="#59656D" stroke-width="1"/>
<line x1="746" y1="488.5" x2="1235" y2="488.5" stroke="#59656D" stroke-width="1"/>
<line x1="746" y1="518.5" x2="1235" y2="518.5" stroke="#59656D" stroke-width="1"/>
<line x1="746" y1="579.5" x2="1235" y2="579.5" stroke="#59656D" stroke-width="1"/>
<path d="M746.5 615V398.5H1234.5V609.5H746" fill="none" stroke="#000" stroke-width="1"/>
<line x1="746.5" y1="609" x2="746.5" y2="615" stroke="#000" stroke-width="1"/>
<text transform="translate(748.1,637) scale(1,1.06)" font-size="18.67" text-anchor="middle">1.1.</text>
<line x1="792.5" y1="609" x2="792.5" y2="615" stroke="#000" stroke-width="1"/>
<text transform="translate(793.9,637) scale(1,1.06)" font-size="18.67" text-anchor="middle">15.1.</text>
<line x1="838.5" y1="609" x2="838.5" y2="615" stroke="#000" stroke-width="1"/>
<text transform="translate(839.7,637) scale(1,1.06)" font-size="18.67" text-anchor="middle">29.1.</text>
<line x1="883.5" y1="609" x2="883.5" y2="615" stroke="#000" stroke-width="1"/>
<text transform="translate(885.4,637) scale(1,1.06)" font-size="18.67" text-anchor="middle">12.2.</text>
<line x1="929.5" y1="609" x2="929.5" y2="615" stroke="#000" stroke-width="1"/>
<text transform="translate(931.2,637) scale(1,1.06)" font-size="18.67" text-anchor="middle">26.2.</text>
<line x1="975.5" y1="609" x2="975.5" y2="615" stroke="#000" stroke-width="1"/>
<text transform="translate(977.0,637) scale(1,1.06)" font-size="18.67" text-anchor="middle">11.3.</text>
<line x1="1021.5" y1="609" x2="1021.5" y2="615" stroke="#000" stroke-width="1"/>
<text transform="translate(1022.8,637) scale(1,1.06)" font-size="18.67" text-anchor="middle">25.3.</text>
<line x1="1067.5" y1="609" x2="1067.5" y2="615" stroke="#000" stroke-width="1"/>
<text transform="translate(1068.6,637) scale(1,1.06)" font-size="18.67" text-anchor="middle">8.4.</text>
<line x1="1112.5" y1="609" x2="1112.5" y2="615" stroke="#000" stroke-width="1"/>
<text transform="translate(1114.3,637) scale(1,1.06)" font-size="18.67" text-anchor="middle">22.4.</text>
<line x1="1158.5" y1="609" x2="1158.5" y2="615" stroke="#000" stroke-width="1"/>
<text transform="translate(1160.1,637) scale(1,1.06)" font-size="18.67" text-anchor="middle">6.5.</text>
<line x1="1204.5" y1="609" x2="1204.5" y2="615" stroke="#000" stroke-width="1"/>
<text transform="translate(1205.9,637) scale(1,1.06)" font-size="18.67" text-anchor="middle">20.5.</text>
<text transform="translate(730.2,404.5) scale(1,1.06)" font-size="18.67" text-anchor="end">175</text>
<text transform="translate(730.2,434.5) scale(1,1.06)" font-size="18.67" text-anchor="end">150</text>
<text transform="translate(730.2,464.5) scale(1,1.06)" font-size="18.67" text-anchor="end">125</text>
<text transform="translate(730.2,494.5) scale(1,1.06)" font-size="18.67" text-anchor="end">100</text>
<text transform="translate(730.2,524.5) scale(1,1.06)" font-size="18.67" text-anchor="end">75</text>
<text transform="translate(730.2,554.5) scale(1,1.06)" font-size="18.67" text-anchor="end">50</text>
<text transform="translate(730.2,585.5) scale(1,1.06)" font-size="18.67" text-anchor="end">25</text>
<text transform="translate(730.2,615.5) scale(1,1.06)" font-size="18.67" text-anchor="end">0</text>
<g fill="none" stroke-linejoin="round" stroke-linecap="round">
<polyline points="747.0,603.0 749.8,601.1 753.7,601.1 758.5,598.2 761.9,605.0 766.3,604.0 772.1,601.1 776.0,591.4 780.9,600.1 784.7,603.0 790.6,600.6 796.4,599.2 802.2,596.3 806.1,603.0 811.9,598.2 817.7,603.0 826.4,603.0 833.2,601.1 839.0,599.7 844.8,598.2 849.7,603.0 854.5,598.2 858.4,590.4 863.2,594.3 868.1,594.3 872.9,598.2 879.7,600.1 887.5,598.2 893.3,600.1 899.1,598.2 906.9,596.3 912.7,600.1 916.6,602.1 922.4,592.4 928.2,588.5 932.1,581.7 935.8,581.7 943.1,598.2 955.1,602.7 967.2,596.7 979.3,601.2 991.4,593.7 1000.5,599.7 1009.5,595.2 1018.6,590.6 1027.7,589.1 1031.4,596.7 1036.6,599.7 1044.1,596.7 1053.2,601.2 1063.7,586.1 1072.8,598.2 1081.9,602.7 1092.4,604.2 1101.5,599.7 1110.6,595.2 1119.6,598.2 1124.1,599.9 1133.7,599.2 1143.4,598.3 1153.1,600.2 1162.8,599.2 1172.5,601.2 1182.3,603.1 1192.0,604.1 1201.7,601.2 1211.4,600.2 1221.1,595.3 1225.0,591.5 1230.8,601.2 1234.0,599.2" stroke="#70AD47" stroke-width="1.4"/>
<polyline points="747.0,602.1 749.8,600.1 753.7,600.1 756.6,603.0 759.0,590.4 761.5,606.9 765.3,606.9 769.2,603.0 772.1,600.1 775.5,585.6 778.9,594.3 782.3,606.4 786.7,603.0 790.6,600.1 794.4,599.2 798.3,596.3 802.2,595.3 805.1,605.0 808.5,599.2 811.9,597.2 815.8,602.1 821.6,603.0 827.4,603.0 831.3,594.3 834.2,602.1 837.1,598.2 839.0,600.1 844.8,588.5 848.7,604.0 853.5,600.1 857.4,578.8 860.8,598.2 864.2,590.4 868.1,596.3 872.0,599.2 879.7,598.2 883.6,599.2 887.5,596.3 891.4,598.2 894.3,603.0 899.1,597.2 903.0,595.3 906.9,595.3 912.7,599.2 916.6,604.0 920.5,600.1 924.4,591.4 928.2,589.5 932.1,579.8 935.8,575.7 942.3,604.2 949.1,593.7 955.1,604.2 961.2,596.7 967.2,595.2 976.3,602.7 983.8,598.2 989.9,596.7 994.4,592.1 999.0,604.2 1005.0,593.7 1009.5,596.7 1012.5,599.7 1018.6,593.7 1023.1,587.6 1027.7,587.6 1031.4,599.7 1035.0,602.7 1039.6,587.6 1045.6,598.2 1051.7,602.7 1057.7,599.7 1063.7,584.6 1069.8,596.7 1075.8,601.2 1081.9,602.7 1087.9,604.2 1097.0,599.7 1104.5,598.2 1112.1,592.1 1119.6,598.2 1124.1,600.7 1128.9,599.2 1133.7,598.3 1136.6,600.2 1143.4,598.3 1149.2,603.1 1153.1,601.2 1158.0,598.3 1162.8,598.7 1167.7,600.2 1172.5,602.1 1178.4,604.1 1184.2,604.1 1190.0,606.0 1195.8,603.1 1201.7,600.2 1206.5,599.2 1211.4,600.2 1217.2,596.3 1223.0,590.5 1226.9,591.5 1230.8,602.1 1234.0,599.2" stroke="#0E9A48" stroke-width="3.0"/>
<polyline points="747.0,604.0 749.3,596.3 753.7,600.1 756.6,602.1 759.5,584.6 762.4,606.9 765.3,606.9 769.2,602.1 773.1,603.0 776.0,586.6 779.9,598.2 782.8,605.0 788.6,600.1 794.4,599.2 799.3,598.2 802.2,596.3 805.1,604.0 811.4,585.6 813.8,598.2 817.7,605.0 823.5,604.0 829.4,606.0 835.2,606.0 839.0,601.6 843.8,602.1 847.7,606.9 851.6,605.0 855.5,586.6 857.9,583.6 861.3,591.4 864.2,586.6 868.1,596.3 871.0,606.9 875.9,597.2 879.7,600.1 885.6,602.1 889.4,598.2 893.3,604.0 897.2,597.2 901.1,600.1 906.4,590.4 909.8,599.2 916.6,605.0 920.5,598.2 922.4,576.9 926.3,586.6 932.1,590.4 935.8,575.7 942.3,599.7 949.1,592.1 955.1,605.7 961.2,599.7 967.2,595.2 976.3,602.7 982.3,593.7 988.1,570.2 991.4,590.6 995.2,589.1 999.0,599.7 1003.5,590.6 1008.0,593.7 1012.5,592.1 1014.8,568.0 1017.4,520.4 1021.6,531.7 1024.6,584.6 1030.7,587.6 1035.0,598.2 1038.1,587.6 1040.3,524.2 1043.4,551.4 1045.6,593.7 1047.9,592.1 1051.7,599.7 1057.7,595.2 1063.7,569.5 1068.3,581.6 1072.8,593.7 1078.8,601.2 1086.4,604.2 1092.4,602.7 1096.2,595.2 1100.0,601.2 1107.5,590.6 1112.1,593.7 1116.6,587.6 1119.6,596.7 1124.1,597.5 1129.3,595.3 1132.7,598.3 1136.6,603.1 1141.5,598.3 1145.4,597.3 1149.2,604.1 1153.1,598.3 1158.5,586.1 1162.8,593.4 1165.7,597.3 1170.6,598.3 1174.5,600.2 1178.4,594.4 1181.3,601.2 1184.7,585.6 1188.1,600.2 1192.0,606.0 1195.8,603.1 1201.7,590.5 1204.6,595.3 1208.5,597.3 1213.3,599.2 1219.1,593.4 1225.0,582.7 1228.9,586.6 1231.8,600.2 1234.0,596.3" stroke="#9DC3E6" stroke-width="3.6"/>
<polyline points="747.0,601.6 749.8,599.7 753.2,599.2 756.1,604.0 759.0,571.0 761.9,602.1 765.3,604.0 769.0,598.7 772.1,601.6 776.0,589.5 778.9,597.2 782.8,604.5 786.7,602.1 790.6,600.6 794.4,601.6 798.3,598.2 802.2,593.8 805.1,604.0 808.5,599.2 811.9,596.3 815.8,601.1 819.7,603.0 823.5,603.0 828.4,604.0 833.2,602.1 838.1,598.7 839.0,598.7 843.8,597.2 847.7,602.1 851.6,603.0 856.5,592.4 860.3,593.8 864.2,593.3 867.1,588.5 871.0,602.1 873.9,589.5 879.7,603.0 885.6,603.0 889.4,596.3 893.3,599.2 897.2,591.4 901.1,602.1 906.9,595.3 910.8,601.1 915.6,603.0 920.5,600.1 923.4,584.6 925.8,568.6 930.2,587.5 935.9,568.7 942.3,601.2 949.1,592.1 955.1,604.2 961.9,590.6 965.7,589.1 971.8,595.2 977.8,601.2 983.8,596.7 988.1,591.4 994.4,596.7 1000.5,599.7 1005.0,599.7 1008.0,584.6 1011.0,586.1 1014.8,592.1 1020.9,583.1 1024.6,583.1 1028.0,569.8 1031.3,589.1 1035.0,599.7 1039.6,584.6 1041.8,587.6 1044.1,599.7 1051.7,604.2 1057.7,598.2 1063.7,580.1 1068.3,593.7 1074.3,602.7 1080.4,599.7 1087.9,604.2 1095.5,604.2 1100.0,603.5 1103.8,598.2 1107.5,596.7 1112.8,593.7 1118.1,599.7 1124.1,601.2 1127.9,601.2 1132.7,593.9 1135.7,601.2 1142.4,595.3 1146.3,596.3 1152.2,602.1 1156.0,594.9 1159.0,601.2 1169.6,598.3 1172.5,597.3 1175.5,601.2 1182.3,602.1 1187.1,604.1 1192.0,604.1 1196.8,603.6 1201.7,602.1 1206.5,602.1 1209.4,599.2 1215.3,598.3 1218.2,595.3 1221.1,597.3 1225.0,593.4 1227.9,592.4 1230.8,600.2 1234.0,601.2" stroke="#F9D500" stroke-width="2.2"/>
</g>
<line x1="746" y1="547.5" x2="1234" y2="547.5" stroke="#BE2B24" stroke-width="3.1"/>
<text transform="translate(1218.6,538.5) scale(1,1.06)" font-size="18.67" text-anchor="end">raja-arvotaso</text>
<text transform="translate(1229,422) scale(1,1.06)" font-size="22.2" text-anchor="end">2020</text>
<text transform="translate(661.4,515.78) rotate(-90) scale(1,1.05)" font-size="19.5" letter-spacing="0.76" text-anchor="middle">PM<tspan font-size="13.3" dy="3.8">10</tspan><tspan dy="-3.8"> vuorokausipitoisuus</tspan></text>
<text transform="translate(687.8,514.42) rotate(-90) scale(1,1.05)" font-size="19.5" letter-spacing="0.25" text-anchor="middle">(µg/m<tspan font-size="13.3" dy="-7">3</tspan><tspan dy="7">)</tspan></text>
<text transform="translate(57,312) scale(1,1.06)" font-size="16">Liikenneasemat</text>
<line x1="106.5" y1="329.5" x2="132.5" y2="329.5" stroke="#D42483" stroke-width="2.9" stroke-linecap="round"/>
<text transform="translate(134.7,336) scale(1,1.06)" font-size="18.9">Mannerheimintie</text>
<line x1="106.5" y1="351.3" x2="132.5" y2="351.3" stroke="#7B3A8E" stroke-width="2.9" stroke-linecap="round"/>
<text transform="translate(134.7,358) scale(1,1.06)" font-size="18.9">Tikkurila 3</text>
<line x1="285.5" y1="329.5" x2="311" y2="329.5" stroke="#262626" stroke-width="2.9" stroke-linecap="round"/>
<text transform="translate(313.7,336) scale(1,1.06)" font-size="18.9">Mäkelänkatu</text>
<line x1="285.5" y1="351.3" x2="311" y2="351.3" stroke="#F9D500" stroke-width="2.3" stroke-linecap="round"/>
<text transform="translate(313.7,358) scale(1,1.06)" font-size="18.9">Töölöntulli</text>
<line x1="464" y1="329.5" x2="489" y2="329.5" stroke="#E97209" stroke-width="2.9" stroke-linecap="round"/>
<text transform="translate(492,336) scale(1,1.06)" font-size="18.9">Leppävaara 4</text>
<line x1="464" y1="351.3" x2="489" y2="351.3" stroke="#983C02" stroke-width="2.3" stroke-linecap="round"/>
<text transform="translate(492,358) scale(1,1.06)" font-size="18.9">Matinkylä</text>
<text transform="translate(48.3,664) scale(1,1.06)" font-size="16">Liikenneasemat</text>
<line x1="102.5" y1="681.5" x2="127" y2="681.5" stroke="#D42483" stroke-width="2.7" stroke-linecap="round"/>
<text transform="translate(130,687) scale(1,1.06)" font-size="18.9">Mannerheimintie</text>
<line x1="102.5" y1="702.5" x2="127" y2="702.5" stroke="#7B3A8E" stroke-width="2.7" stroke-linecap="round"/>
<text transform="translate(130,709) scale(1,1.06)" font-size="18.9">Tikkurila 3</text>
<line x1="281.5" y1="681.5" x2="305.5" y2="681.5" stroke="#262626" stroke-width="2.6" stroke-linecap="round"/>
<text transform="translate(308.2,687) scale(1,1.06)" font-size="18.9">Mäkelänkatu</text>
<line x1="281.5" y1="702.5" x2="305.5" y2="702.5" stroke="#C55A11" stroke-width="1.6" stroke-linecap="round"/>
<text transform="translate(308.2,709) scale(1,1.06)" font-size="18.9">Otaniemi</text>
<line x1="460" y1="681.5" x2="484.5" y2="681.5" stroke="#E97209" stroke-width="2.6" stroke-linecap="round"/>
<text transform="translate(487.6,687) scale(1,1.06)" font-size="18.9">Leppävaara 4</text>
<line x1="460" y1="702.5" x2="484.5" y2="702.5" stroke="#0B64A6" stroke-width="1.9" stroke-linecap="round"/>
<text transform="translate(487.6,709) scale(1,1.06)" font-size="18.9">Varisto</text>
<line x1="741.5" y1="329.5" x2="767" y2="329.5" stroke="#0E9A48" stroke-width="2.8" stroke-linecap="round"/>
<text transform="translate(770.3,336) scale(1,1.06)" font-size="18.9">Kallio</text>
<text transform="translate(736.8,357) scale(1,1.06)" font-size="14.7">tausta-asema</text>
<line x1="829.5" y1="329.5" x2="853" y2="329.5" stroke="#9DC3E6" stroke-width="1.9" stroke-linecap="round"/>
<text transform="translate(857.3,336) scale(1,1.06)" font-size="18.9">Katajanokka</text>
<text transform="translate(843,357) scale(1,1.06)" font-size="14.7">sataman vaikutusalue</text>
<line x1="973" y1="329.5" x2="998" y2="329.5" stroke="#1163A7" stroke-width="2.2" stroke-linecap="round"/>
<text transform="translate(1000.5,336) scale(1,1.06)" font-size="18.9">Ruskeasanta</text>
<text transform="translate(1023.4,357) scale(1,1.06)" font-size="14.7">pientaloalue</text>
<line x1="1124" y1="329.5" x2="1149" y2="329.5" stroke="#70AD47" stroke-width="2.8" stroke-linecap="round"/>
<text transform="translate(1150.7,336) scale(1,1.06)" font-size="18.9">Vartiokylä</text>
<text transform="translate(1156.7,357) scale(1,1.06)" font-size="14.7">pientaloalue</text>
<line x1="735.5" y1="680.5" x2="760" y2="680.5" stroke="#0E9A48" stroke-width="3.0" stroke-linecap="round"/>
<text transform="translate(763.6,687) scale(1,1.06)" font-size="18.9">Kallio</text>
<text transform="translate(722.8,707) scale(1,1.06)" font-size="14.7">tausta-asema</text>
<line x1="838.5" y1="680.5" x2="864" y2="680.5" stroke="#9DC3E6" stroke-width="3.0" stroke-linecap="round"/>
<text transform="translate(867.2,687) scale(1,1.06)" font-size="18.9">Länsisatama</text>
<text transform="translate(832.1,707) scale(1,1.06)" font-size="14.7">sataman vaikutusalue</text>
<line x1="1002.5" y1="680.5" x2="1027.5" y2="680.5" stroke="#F9D500" stroke-width="1.8" stroke-linecap="round"/>
<text transform="translate(1031.3,687) scale(1,1.06)" font-size="18.9">Pirkkola</text>
<text transform="translate(1018.9,707) scale(1,1.06)" font-size="14.7">pientaloalue</text>
<line x1="1126.5" y1="680.5" x2="1151.5" y2="680.5" stroke="#70AD47" stroke-width="1.8" stroke-linecap="round"/>
<text transform="translate(1154.7,687) scale(1,1.06)" font-size="18.9">Vartiokylä</text>
<text transform="translate(1154.8,707) scale(1,1.06)" font-size="14.7">pientaloalue</text>
</svg></body></html>
